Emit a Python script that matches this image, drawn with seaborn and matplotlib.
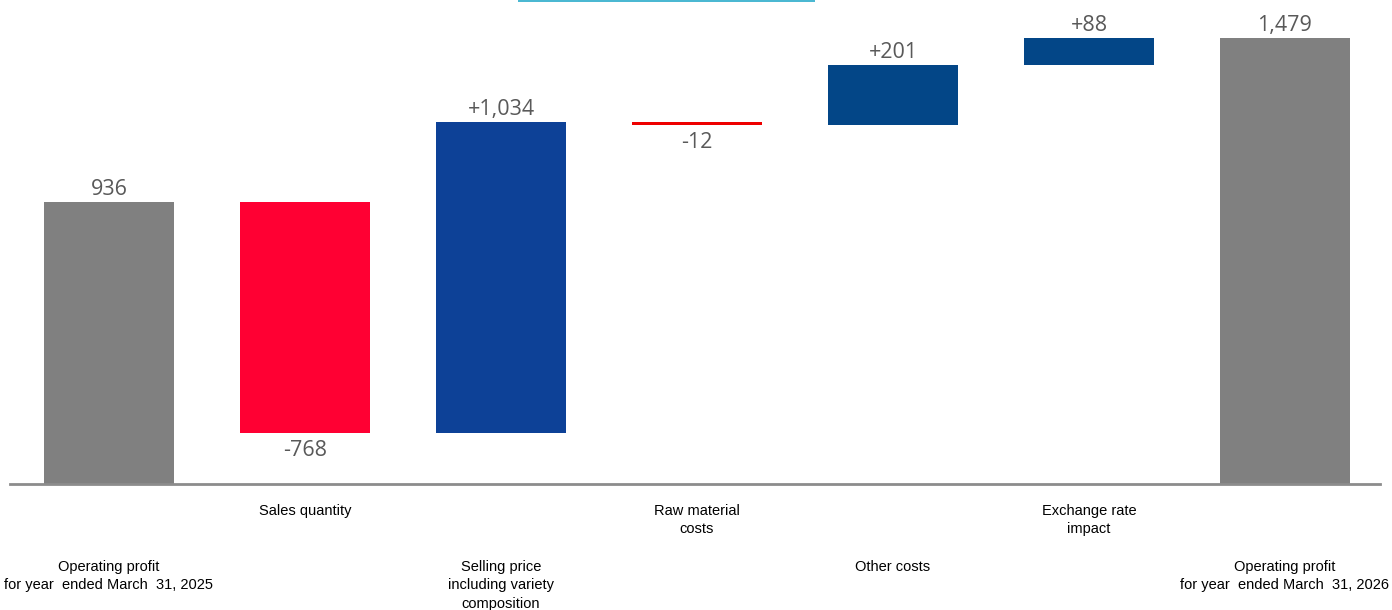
import matplotlib
matplotlib.use("Agg")
import matplotlib.pyplot as plt
import matplotlib.patches as mpatches
import numpy as np
import seaborn as sns

# data
categories = [
    "Operating profit\nfor year  ended March  31, 2025",
    "Sales quantity",
    "Selling price\nincluding variety\ncomposition",
    "Raw material\ncosts",
    "Other costs",
    "Exchange rate\nimpact",
    "Operating profit\nfor year  ended March  31, 2026",
]
changes = [936, -768, 1034, -12, 201, 88, 1479]
kinds = ["total", "change", "change", "change", "change", "change", "total"]

# styling
bar_colors = ["#808080", "#FF0033", "#0D4197", "#EE0000", "#034687", "#034687", "#808080"]
text_color = "#595959"

# waterfall bottoms
bottoms = []
running = 0
for val, kind in zip(changes, kinds):
    if kind == "total":
        bottoms.append(0)
        running = val
    else:
        bottoms.append(running)
        running += val

def fmt(val, kind):
    s = f"{abs(val):,}"
    if kind == "total":
        return s
    return ("+" if val > 0 else "-") + s

sns.set_style("white")
plt.rcParams["font.family"] = ["Liberation Sans", "DejaVu Sans"]

fig = plt.figure(figsize=(13.92, 6.10), dpi=100)
ax = fig.add_axes([10 / 1392, 126 / 610, 1370 / 1392, 484 / 610])

x = np.arange(len(categories))
sns.barplot(x=x, y=changes, bottom=bottoms, width=0.663, saturation=1,
            color="#808080", ax=ax, linewidth=0, errorbar=None)
for patch, c in zip(ax.patches, bar_colors):
    patch.set_facecolor(c)

ax.set_xlim(-0.505, 6.485)
ax.set_ylim(0, 1606)
for s in ["top", "right", "left"]:
    ax.spines[s].set_visible(False)
ax.spines["bottom"].set_color("#8C8C8C")
ax.spines["bottom"].set_linewidth(2)
ax.set_yticks([])
ax.set_xticks([])
ax.set_xlabel("")
ax.set_ylabel("")

# value labels
for i, (val, kind, b) in enumerate(zip(changes, kinds, bottoms)):
    top = b + val
    label = fmt(val, kind)
    if val >= 0:
        ax.annotate(label, (i, top), xytext=(0, 2), textcoords="offset pixels",
                    ha="center", va="bottom", fontsize=15.5, color=text_color,
                    family=["Open Sans", "DejaVu Sans"])
    else:
        ax.annotate(label, (i, top), xytext=(0, -7), textcoords="offset pixels",
                    ha="center", va="top", fontsize=15.5, color=text_color,
                    family=["Open Sans", "DejaVu Sans"])

# category labels, staggered in two rows
for i, cat in enumerate(categories):
    off = -20 if i % 2 == 1 else -76
    ax.annotate(cat, (i, 0), xytext=(0, off), textcoords="offset pixels",
                ha="center", va="top", fontsize=10.5, color="#000000",
                linespacing=1.4, annotation_clip=False)

# cropped slide frame at the top
fig.add_artist(mpatches.Rectangle((518 / 1392, 1 - 2 / 610), 297 / 1392, 2 / 610,
                                  transform=fig.transFigure, color="#4BB8D2", lw=0))

fig.savefig("out.png", dpi=100)
